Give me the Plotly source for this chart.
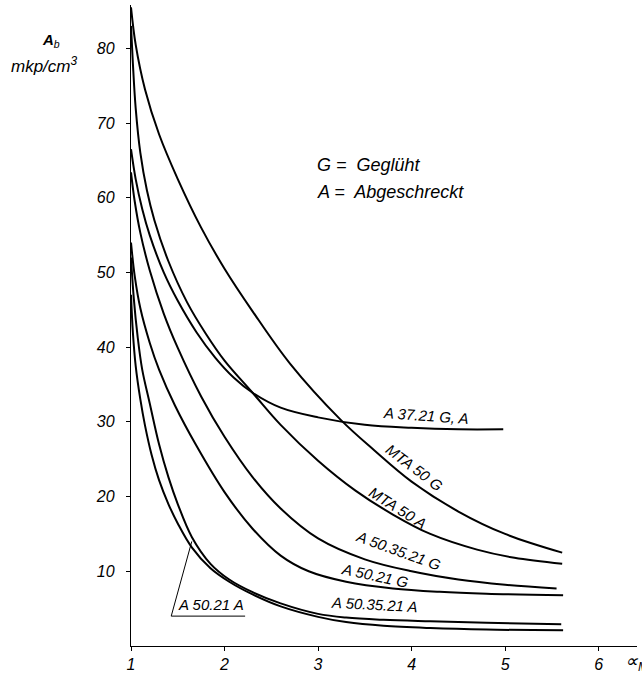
import plotly.graph_objects as go

# ---- data ----
mta50g_x = [1.0, 1.05, 1.15, 1.3, 1.5, 1.75, 2.0, 2.3, 2.7, 3.24, 3.6, 4.0, 4.5, 5.0, 5.61]
mta50g_y = [85.5, 80.5, 74.5, 68.5, 62.5, 56.0, 50.5, 44.8, 37.8, 30.3, 26.2, 22.0, 18.0, 15.0, 12.5]

mta50a_x = [1.0, 1.02, 1.05, 1.1, 1.17, 1.25, 1.4, 1.6, 1.8, 2.0, 2.3, 2.6, 3.0, 3.4, 3.8, 4.2, 4.7, 5.1, 5.61]
mta50a_y = [83.0, 78.0, 72.0, 66.0, 61.0, 57.0, 51.5, 46.0, 41.8, 38.2, 33.9, 29.6, 24.8, 20.8, 17.6, 15.0, 12.9, 11.8, 11.0]

a3721_x = [1.0, 1.05, 1.12, 1.2, 1.35, 1.5, 1.7, 1.9, 2.1, 2.3, 2.6, 3.0, 3.5, 4.0, 4.5, 4.98]
a3721_y = [66.5, 62.5, 58.5, 55.0, 50.0, 46.2, 42.0, 38.6, 35.9, 33.9, 31.9, 30.6, 29.6, 29.2, 29.0, 29.0]

a503521g_x = [1.0, 1.04, 1.1, 1.2, 1.35, 1.5, 1.75, 2.0, 2.3, 2.6, 3.0, 3.5, 4.0, 4.5, 5.0, 5.55]
a503521g_y = [63.4, 59.5, 55.3, 50.3, 44.5, 39.9, 33.4, 28.0, 22.6, 18.4, 14.4, 11.6, 10.0, 8.9, 8.2, 7.7]

a5021g_x = [1.0, 1.04, 1.1, 1.2, 1.3, 1.47, 1.7, 2.0, 2.3, 2.6, 2.9, 3.3, 3.8, 4.3, 4.8, 5.62]
a5021g_y = [54.0, 49.5, 45.2, 40.6, 37.0, 32.2, 26.8, 20.6, 15.7, 12.1, 10.0, 8.6, 7.7, 7.25, 7.0, 6.8]

a503521a_x = [1.0, 1.03, 1.07, 1.12, 1.2, 1.3, 1.4, 1.5, 1.65, 1.85, 2.05, 2.3, 2.6, 3.0, 3.3, 3.7, 4.2, 4.8, 5.6]
a503521a_y = [52.0, 46.5, 41.5, 37.0, 32.5, 27.0, 22.6, 19.0, 14.6, 11.0, 8.9, 7.2, 5.7, 4.3, 3.8, 3.5, 3.3, 3.1, 2.9]

a5021a_x = [1.0, 1.02, 1.05, 1.1, 1.15, 1.22, 1.3, 1.4, 1.5, 1.65, 1.85, 2.05, 2.3, 2.6, 3.0, 3.3, 3.7, 4.2, 4.8, 5.62]
a5021a_y = [47.0, 42.0, 37.5, 33.0, 29.5, 25.6, 22.2, 19.0, 16.4, 13.2, 10.4, 8.6, 6.9, 5.3, 3.9, 3.2, 2.7, 2.4, 2.2, 2.1]

series = [
    ("MTA 50 G", mta50g_x, mta50g_y),
    ("MTA 50 A", mta50a_x, mta50a_y),
    ("A 37.21 G, A", a3721_x, a3721_y),
    ("A 50.35.21 G", a503521g_x, a503521g_y),
    ("A 50.21 G", a5021g_x, a5021g_y),
    ("A 50.35.21 A", a503521a_x, a503521a_y),
    ("A 50.21 A", a5021a_x, a5021a_y),
]

x_ticks = [1, 2, 3, 4, 5, 6]
y_ticks = [10, 20, 30, 40, 50, 60, 70, 80]

# curve labels: text, x, y, angle
labels = [
    ("A 37.21 G, A", 4.15, 30.8, 4),
    ("MTA 50 G", 4.03, 23.9, 37),
    ("MTA 50 A", 3.85, 18.6, 32),
    ("A 50.35.21 G", 3.86, 12.8, 20),
    ("A 50.21 G", 3.61, 9.5, 12),
    ("A 50.35.21 A", 3.60, 5.5, 3),
]

FONT = "Liberation Sans"

fig = go.Figure()
for name, xs, ys in series:
    fig.add_trace(go.Scatter(x=xs, y=ys, mode="lines", name=name,
                             line=dict(color="black", width=2, shape="spline", smoothing=1.0),
                             showlegend=False, hoverinfo="skip"))

# pointer for A 50.21 A label
fig.add_trace(go.Scatter(x=[1.65, 1.43, 2.22], y=[14.0, 4.0, 4.0], mode="lines",
                         line=dict(color="black", width=1), showlegend=False, hoverinfo="skip"))

ann = []
for t, x, y, a in labels:
    ann.append(dict(x=x, y=y, text=t, showarrow=False, textangle=a,
                    font=dict(family=FONT, size=15, color="black", style="italic"),
                    xanchor="center", yanchor="middle"))
ann.append(dict(x=1.86, y=5.6, text="A 50.21 A", showarrow=False,
                font=dict(family=FONT, size=15, color="black", style="italic"),
                xanchor="center", yanchor="middle"))
ann.append(dict(x=2.97, y=64.4, text="G =  Geglüht", showarrow=False, xanchor="left", yanchor="middle",
                font=dict(family=FONT, size=18, color="black", style="italic")))
ann.append(dict(x=2.97, y=60.8, text="A =  Abgeschreckt", showarrow=False, xanchor="left", yanchor="middle",
                font=dict(family=FONT, size=18, color="black", style="italic")))
# axis titles
ann.append(dict(xref="paper", yref="paper", x=-0.158, y=0.944, text="<b>A</b><sub>b</sub>", showarrow=False,
                xanchor="center", yanchor="middle",
                font=dict(family=FONT, size=15, color="black", style="italic")))
ann.append(dict(xref="paper", yref="paper", x=-0.17, y=0.906, text="mkp/cm<sup>3</sup>", showarrow=False,
                xanchor="center", yanchor="middle",
                font=dict(family=FONT, size=17, color="black", style="italic")))
ann.append(dict(xref="paper", yref="paper", x=0.972, y=-0.026, text="∝<sub>M</sub>", showarrow=False,
                xanchor="left", yanchor="middle",
                font=dict(family=FONT, size=18, color="black", style="italic")))

fig.update_layout(
    width=642, height=678,
    margin=dict(l=131, r=5, t=5, b=28),
    paper_bgcolor="white", plot_bgcolor="white",
    annotations=ann,
    xaxis=dict(range=[1, 6.41], tickvals=x_ticks, ticktext=[str(v) for v in x_ticks],
               showgrid=False, zeroline=False, showline=True, linecolor="black", linewidth=1.3,
               ticks="outside", ticklen=4, tickcolor="black", tickwidth=1,
               tickfont=dict(family=FONT, size=16, color="black", style="italic")),
    yaxis=dict(range=[0, 85.8], tickvals=y_ticks, ticktext=[str(v) for v in y_ticks],
               showgrid=False, zeroline=False, showline=True, linecolor="black", linewidth=1.3,
               ticks="outside", ticklen=4, tickcolor="black", tickwidth=1, ticklabelstandoff=8,
               tickfont=dict(family=FONT, size=16, color="black", style="italic")),
)

fig.write_html("out.html")
